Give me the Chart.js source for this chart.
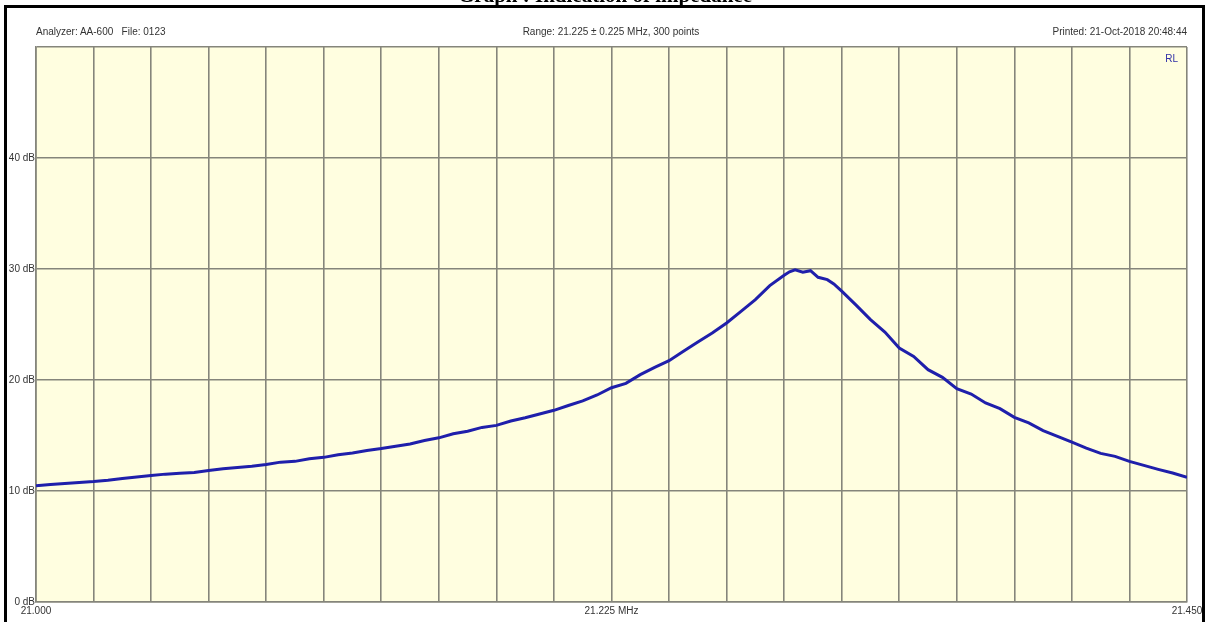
<!DOCTYPE html>
<html>
<head>
<meta charset="utf-8">
<script src="https://cdn.jsdelivr.net/npm/chart.js@4/dist/chart.umd.min.js"></script>
<style>
  html, body { margin: 0; padding: 0; background: #ffffff; }
  #wrap { position: relative; width: 1208px; height: 622px; overflow: hidden; }
  canvas { position: absolute; left: 0; top: 0; }
  .ov { position: absolute; white-space: pre; pointer-events: none; font-family: "Liberation Sans", Arial, sans-serif; font-size: 10px; line-height: 12px; color: #333; }
  #frame { position: absolute; left: 4px; top: 5px; width: 1201px; height: 700px; box-sizing: border-box; border: 3px solid #000; border-bottom: none; pointer-events: none; }
  #title { position: absolute; left: 605px; top: -15px; transform: translateX(-50%); font-family: "Liberation Serif", "Times New Roman", serif; font-weight: bold; font-size: 21px; line-height: 20px; color: #000; white-space: pre; }
</style>
</head>
<body>
<div id="wrap">
  <canvas id="c" width="1208" height="622"></canvas>
  <div id="title">Graph : Indication of impedance</div>
  <div id="frame"></div>
  <div class="ov" id="hLeft" style="left:36px; top:26px;"></div>
  <div class="ov" id="hMid" style="left:611px; top:26px; transform:translateX(-50%);"></div>
  <div class="ov" id="hRight" style="right:21px; top:26px;"></div>
  <div class="ov" id="rl" style="right:30px; top:53px; color:#2f2fa6;"></div>
</div>
<script>
// ---- data ----
const headerLeft = "Analyzer: AA-600   File: 0123";
const headerMid = "Range: 21.225 \u00B1 0.225 MHz, 300 points";
const headerRight = "Printed: 21-Oct-2018 20:48:44";
const seriesName = "RL";

// frequency (MHz)
const freq = [
  21.00000, 21.00563, 21.01125, 21.01688, 21.02250, 21.02813, 21.03375, 21.03938,
  21.04500, 21.05063, 21.05625, 21.06188, 21.06750, 21.07313, 21.07875, 21.08438,
  21.09000, 21.09563, 21.10125, 21.10688, 21.11250, 21.11813, 21.12375, 21.12938,
  21.13500, 21.14063, 21.14625, 21.15188, 21.15750, 21.16313, 21.16875, 21.17438,
  21.18000, 21.18563, 21.19125, 21.19688, 21.20250, 21.20813, 21.21375, 21.21938,
  21.22500, 21.23063, 21.23625, 21.24188, 21.24750, 21.25313, 21.25875, 21.26438,
  21.27000, 21.27563, 21.28125, 21.28688, 21.29250,
  21.29459, 21.29678, 21.29981, 21.30281, 21.30578, 21.30938, 21.31192,
  21.31500, 21.32063, 21.32625, 21.33188, 21.33750, 21.34313, 21.34875, 21.35438,
  21.36000, 21.36563, 21.37125, 21.37688, 21.38250, 21.38813, 21.39375, 21.39938,
  21.40500, 21.41063, 21.41625, 21.42188, 21.42750, 21.43313, 21.43875, 21.44438,
  21.45000
];
// return loss (dB)
const rl = [
  10.48, 10.58, 10.67, 10.76, 10.85, 10.97, 11.12, 11.27,
  11.39, 11.52, 11.60, 11.67, 11.85, 12.00, 12.12, 12.24,
  12.39, 12.60, 12.67, 12.90, 13.03, 13.27, 13.42, 13.64,
  13.82, 14.03, 14.24, 14.55, 14.79, 15.15, 15.39, 15.73,
  15.91, 16.30, 16.60, 16.94, 17.27, 17.70, 18.12, 18.65,
  19.30, 19.70, 20.48, 21.14, 21.74, 22.58, 23.42, 24.23,
  25.14, 26.19, 27.24, 28.50, 29.43,
  29.75, 29.92, 29.72, 29.85, 29.25, 29.04, 28.65,
  28.00, 26.75, 25.44, 24.32, 22.88, 22.13, 20.93, 20.24,
  19.22, 18.74, 17.93, 17.42, 16.64, 16.13, 15.44, 14.92,
  14.41, 13.87, 13.39, 13.12, 12.67, 12.31, 11.95, 11.62,
  11.23
];

// axis grid / tick labels
const xMin = 21.000, xMax = 21.450, xDivisions = 20;
const xLabels = { 0: "21.000", 10: "21.225 MHz", 20: "21.450" };
const yMin = 0, yMax = 50, yStep = 10;
const yLabels = { 0: "0 dB", 10: "10 dB", 20: "20 dB", 30: "30 dB", 40: "40 dB", 50: "" };

document.getElementById('hLeft').textContent = headerLeft;
document.getElementById('hMid').textContent = headerMid;
document.getElementById('hRight').textContent = headerRight;
document.getElementById('rl').textContent = seriesName;

const plotBg = {
  id: 'plotBg',
  beforeDraw(chart) {
    const a = chart.chartArea, ctx = chart.ctx;
    ctx.save();
    ctx.fillStyle = '#fffee0';
    ctx.fillRect(a.left, a.top, a.right - a.left, a.bottom - a.top);
    ctx.restore();
  }
};

const gridColor = '#85857b';
const tickFont = { family: '"Liberation Sans", Arial, sans-serif', size: 10 };

new Chart(document.getElementById('c'), {
  type: 'line',
  data: {
    datasets: [{
      label: seriesName,
      data: freq.map((f, i) => ({ x: f, y: rl[i] })),
      borderColor: '#1f1fab',
      borderWidth: 3,
      pointRadius: 0,
      tension: 0,
      fill: false
    }]
  },
  options: {
    responsive: false,
    animation: false,
    devicePixelRatio: 1,
    layout: { padding: { left: 0, top: 47, right: 21, bottom: 0 } },
    plugins: { legend: { display: false }, tooltip: { enabled: false }, title: { display: false } },
    scales: {
      x: {
        type: 'linear',
        min: xMin, max: xMax,
        afterBuildTicks(scale) {
          const t = [];
          for (let i = 0; i <= xDivisions; i++) t.push({ value: xMin + (xMax - xMin) * i / xDivisions });
          scale.ticks = t;
        },
        afterFit(scale) { scale.height = 20; },
        ticks: {
          autoSkip: false, maxRotation: 0, minRotation: 0, padding: 3,
          color: '#333', font: tickFont,
          callback: (v, i) => (xLabels[i] !== undefined ? xLabels[i] : '')
        },
        grid: { color: gridColor, lineWidth: 1.6, drawTicks: false },
        border: { display: true, color: gridColor, width: 1.6 }
      },
      y: {
        min: yMin, max: yMax,
        ticks: {
          stepSize: yStep, padding: 1, color: '#333', font: tickFont,
          callback: (v) => (yLabels[v] !== undefined ? yLabels[v] : '')
        },
        afterFit(scale) { scale.width = 36; },
        grid: { color: gridColor, lineWidth: 1.6, drawTicks: false },
        border: { display: true, color: gridColor, width: 1.6 }
      }
    }
  },
  plugins: [plotBg]
});
</script>
</body>
</html>
